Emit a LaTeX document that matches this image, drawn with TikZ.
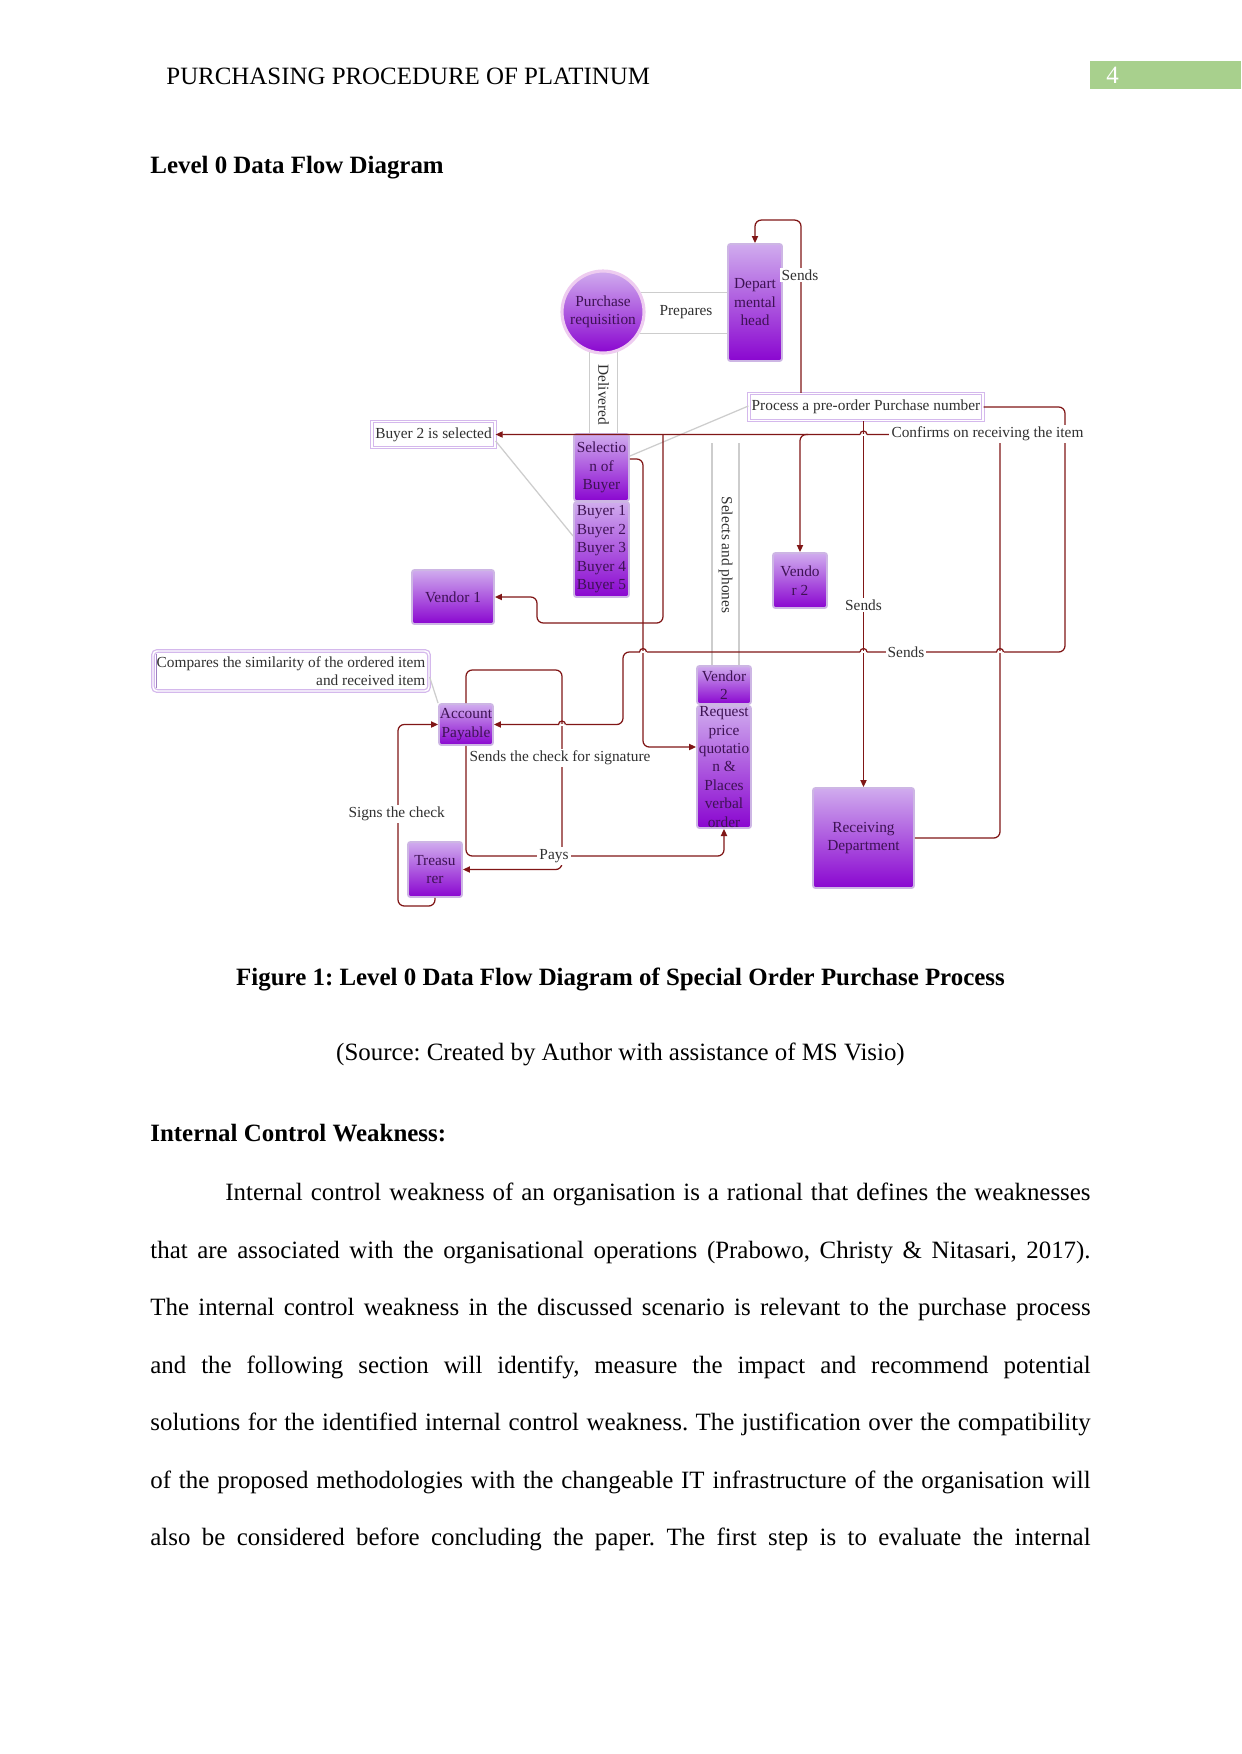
\documentclass[tikz,border=0pt]{standalone}
\usepackage{fontspec}
\setmainfont{Liberation Serif}
\usetikzlibrary{arrows.meta}
\newlength\PX
\setlength\PX{0.16933mm}
\newcommand\dfont{\fontsize{7.4}{8.9}\selectfont}
\newcommand\bodyfont{\fontsize{12}{13.8}\selectfont}
\definecolor{flow}{RGB}{128,22,22}
\definecolor{grayline}{RGB}{205,205,205}
\definecolor{boxtop}{RGB}{208,172,238}
\definecolor{boxbot}{RGB}{138,6,208}
\definecolor{boxedge}{RGB}{205,182,228}
\definecolor{boxtext}{RGB}{62,18,84}
\definecolor{labeltext}{RGB}{48,48,48}
\definecolor{frame}{RGB}{212,184,236}
\definecolor{pagegreen}{RGB}{168,208,141}
\frenchspacing
\begin{document}
\frenchspacing
\begin{tikzpicture}[x=0.16933mm,y=-0.16933mm,
  box/.style={draw=boxedge, line width=0.9pt, top color=boxtop, bottom color=boxbot,
    rounded corners=1.2pt, inner sep=0pt, text=boxtext, font=\dfont, align=center},
  note/.style={draw=frame, double=white, double distance=0.7pt, line width=0.6pt,
    fill=white, inner sep=1pt, text=labeltext, font=\dfont},
  flowline/.style={draw=flow, line width=0.6pt, rounded corners=3pt},
  arr/.style={flowline, -{Triangle[length=3.4pt,width=3pt]}},
  gline/.style={draw=grayline, line width=0.6pt},
  lbl/.style={fill=white, inner sep=1pt, text=labeltext, font=\dfont},
  plain/.style={inner sep=0pt, text=labeltext, font=\dfont},
  body/.style={anchor=base west, inner sep=0pt, font=\bodyfont},
  bodyb/.style={inner sep=0pt, font=\bfseries\bodyfont},
  hop/.style={draw=flow, line width=0.6pt},
]
\fill[white] (0,0) rectangle (1241,1754);
\useasboundingbox (0,0) rectangle (1241,1754);

% ---------- header ----------
\node[body] (hdr) at (166,84) {PURCHASING PROCEDURE OF PLATINUM};
\node[fill=pagegreen, minimum width=151\PX, minimum height=28\PX, anchor=north west, inner sep=0pt] (pg) at (1090,61) {};
\node[anchor=base west, inner sep=0pt, text=white, font=\bodyfont] (pgn) at (1106,83) {4};
\node[bodyb, anchor=base west] (lvl) at (150,173.5) {Level 0 Data Flow Diagram};

% ---------- diagram nodes ----------
\node[circle, box, minimum size=82\PX, draw={rgb,255:red,238;green,204;blue,240}, line width=1.5pt] (pr) at (603,312) {Purchase\\requisition};
\node[box, minimum width=54\PX, minimum height=117\PX] (dh) at (755,302.5) {Depart\\mental\\head};
\node[note, minimum width=234\PX, minimum height=27\PX] (proc) at (866,407) {Process a pre-order Purchase number};
\node[box, minimum width=55\PX, minimum height=67\PX] (sel) at (601.5,467.5) {Selectio\\n of\\Buyer};
\node[box, minimum width=55\PX, minimum height=95\PX] (buy) at (601.5,549.5) {Buyer 1\\Buyer 2\\Buyer 3\\Buyer 4\\Buyer 5};
\node[note, minimum width=123\PX, minimum height=26\PX] (b2s) at (433.5,434.5) {Buyer 2 is selected};
\node[box, minimum width=82\PX, minimum height=54\PX] (v1) at (453,597) {Vendor 1};
\node[box, minimum width=54\PX, minimum height=55\PX] (v2s) at (800,580.5) {Vendo\\r 2};
\node[box, minimum width=54\PX, minimum height=38\PX] (v2) at (724,685) {Vendor\\2};
\node[box, minimum width=54\PX, minimum height=122\PX] (req) at (724,767) {Request\\price\\quotatio\\n \&\\Places\\verbal\\order};
\node[box, minimum width=54\PX, minimum height=41\PX] (ap) at (466,724.5) {Account\\Payable};
\node[note, minimum width=276\PX, minimum height=40\PX, align=right, rounded corners=2pt] (cmp) at (291,671) {Compares the similarity of the ordered item\\and received item};
\draw[draw={rgb,255:red,160;green,130;blue,195}, line width=0.7pt] ([xshift=4\PX,yshift=-4\PX]cmp.north west) -- ([xshift=4\PX,yshift=4\PX]cmp.south west);
\node[box, minimum width=54\PX, minimum height=55\PX] (tr) at (435,869.5) {Treasu\\rer};
\node[box, minimum width=101\PX, minimum height=100\PX] (rd) at (863.5,838) {Receiving\\Department};

% ---------- grey data-flow lines ----------
\draw[gline] (pr.27.6) -- (dh.west |- pr.27.6);
\draw[gline] (pr.-30.8) -- (dh.west |- pr.-30.8);
\node[plain] (lprep) at (686,312) {Prepares};
\draw[gline] (pr.-108.5) -- (sel.north -| pr.-108.5);
\draw[gline] (pr.-70) -- (sel.north -| pr.-70);
\node[plain, rotate=-90] (ldel) at (603.5,395) {Delivered};
\coordinate (sp1) at (712,443);
\coordinate (sp2) at (739,443);
\draw[gline] (sp1) -- (v2.north -| sp1);
\draw[gline] (sp2) -- (v2.north -| sp2);
\node[plain, rotate=-90] (lsel) at (725.5,555) {Selects and phones};
\draw[gline] (b2s.east |- 0,441) -- (buy.west |- 0,536);
\draw[gline] (proc.west |- 0,406) -- (sel.east |- 0,456);
\draw[gline] (cmp.east |- 0,677) -- (ap.north west);

% ---------- maroon connectors ----------
\draw[arr] (proc.north -| 801,0) |- ([yshift=23\PX]dh.north) -- (dh.north);
\draw[arr] (rd.east) -| (1000,434.5) -- (b2s.east);
\coordinate (j1) at (663,434.5);
\draw[arr] (j1) -- (663,623) -| (537,597) -- (v1.east);
\coordinate (j2) at (808,434.5);
\draw[arr] (j2) -| (v2s.north);
\draw[arr] (proc.south -| rd.north) -- (rd.north);
\draw[arr] (proc.east) -| (1065,652) -| (623,724.5) -- (ap.east);
\draw[arr] (sel.east |- 0,459) -| (643,747) -- (req.west |- 0,747);
\draw[arr] (ap.north) |- (562,670) |- (tr.east);
\draw[arr] (ap.south) |- (724,856) -- (req.south);
\draw[arr] (tr.south) |- (398,906) |- (ap.west);

% ---------- line hops ----------
\foreach \hx/\hy [count=\i] in {863.5/434.5, 863.5/652, 1000/652, 643/652, 562/724.5}{
  \coordinate (hop\i) at (\hx,\hy);
  \fill[white] ([xshift=-3.5\PX,yshift=-1\PX]hop\i) rectangle ([xshift=3.5\PX,yshift=1\PX]hop\i);
  \draw[hop] ([xshift=-3.5\PX]hop\i) arc[start angle=180, end angle=0, radius=3.5\PX];
}

% ---------- connector labels ----------
\node[lbl] (lsend1) at (800,275) {Sends};
\node[lbl] (lconf) at (987.5,434) {Confirms on receiving the item};
\node[lbl] (lsend2) at (863.5,605) {Sends};
\node[lbl] (lsend3) at (906,652) {Sends};
\node[lbl] (lcheck) at (560,758) {Sends the check for signature};
\node[lbl] (lpays) at (554,856) {Pays};
\node[lbl] (lsign) at (396.7,814) {Signs the check};

% ---------- caption and text ----------
\node[bodyb, anchor=base] (cap) at (620.5,985.7) {Figure 1: Level 0 Data Flow Diagram of Special Order Purchase Process};
\node[inner sep=0pt, font=\bodyfont, anchor=base] (src) at (620.5,1060) {(Source: Created by Author with assistance of MS Visio)};
\node[bodyb, anchor=base west] (icw) at (150,1141.7) {Internal Control Weakness:};

\node[body] (p1) at (150,1200.7) {\makebox[159.2mm][s]{\hspace*{12.7mm}Internal control weakness of an organisation is a rational that defines the weaknesses}};
\node[body] (p2) at (150,1258.2) {\makebox[159.2mm][s]{that are associated with the organisational operations (Prabowo, Christy \& Nitasari, 2017).}};
\node[body] (p3) at (150,1315.7) {\makebox[159.2mm][s]{The internal control weakness in the discussed scenario is relevant to the purchase process}};
\node[body] (p4) at (150,1373.2) {\makebox[159.2mm][s]{and the following section will identify, measure the impact and recommend potential}};
\node[body] (p5) at (150,1430.7) {\makebox[159.2mm][s]{solutions for the identified internal control weakness. The justification over the compatibility}};
\node[body] (p6) at (150,1488.2) {\makebox[159.2mm][s]{of the proposed methodologies with the changeable IT infrastructure of the organisation will}};
\node[body] (p7) at (150,1545.7) {\makebox[159.2mm][s]{also be considered before concluding the paper. The first step is to evaluate the internal}};
\end{tikzpicture}
\end{document}
